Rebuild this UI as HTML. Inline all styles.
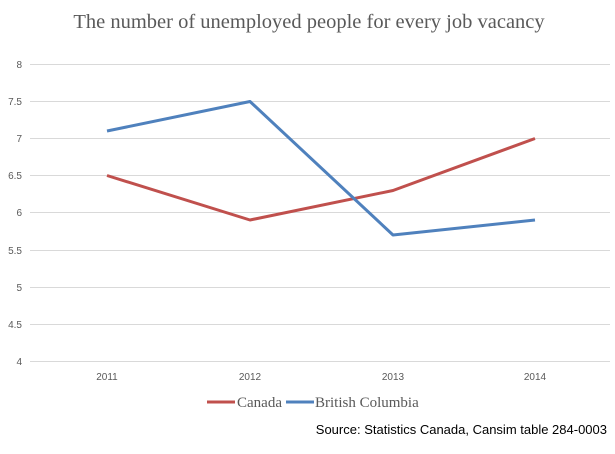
<!DOCTYPE html>
<html><head><style>
body{margin:0;background:#fff;width:615px;height:449px;overflow:hidden}
</style></head><body>
<svg width="615" height="449" xmlns="http://www.w3.org/2000/svg">
<text x="309" y="28" text-anchor="middle" font-family="Liberation Serif, serif" font-size="20.5" fill="#595959">The number of unemployed people for every job vacancy</text>
<g stroke="#d9d9d9" stroke-width="1">
<line x1="30" x2="610" y1="64.5" y2="64.5"/><line x1="30" x2="610" y1="101.5" y2="101.5"/>
<line x1="30" x2="610" y1="138.5" y2="138.5"/><line x1="30" x2="610" y1="175.5" y2="175.5"/>
<line x1="30" x2="610" y1="212.5" y2="212.5"/><line x1="30" x2="610" y1="250.5" y2="250.5"/>
<line x1="30" x2="610" y1="287.5" y2="287.5"/><line x1="30" x2="610" y1="324.5" y2="324.5"/>
<line x1="30" x2="610" y1="361.5" y2="361.5"/>
</g>
<g font-family="Liberation Sans, sans-serif" font-size="10" fill="#595959" text-anchor="end">
<text x="22" y="68">8</text><text x="22" y="105">7.5</text><text x="22" y="142">7</text>
<text x="22" y="179">6.5</text><text x="22" y="216">6</text><text x="22" y="254">5.5</text>
<text x="22" y="291">5</text><text x="22" y="328">4.5</text><text x="22" y="365">4</text>
</g>
<g font-family="Liberation Sans, sans-serif" font-size="10" fill="#595959" text-anchor="middle">
<text x="107" y="380">2011</text><text x="250" y="380">2012</text><text x="393" y="380">2013</text><text x="535" y="380">2014</text>
</g>
<polyline points="107,175.5 250,220 393,190.5 535,138.5" fill="none" stroke="#c0504d" stroke-width="3" stroke-linejoin="round"/>
<polyline points="107,131 250,101.5 393,235 535,220" fill="none" stroke="#4f81bd" stroke-width="3" stroke-linejoin="round"/>
<line x1="207" x2="235" y1="402" y2="402" stroke="#c0504d" stroke-width="3"/>
<text x="237" y="407" font-family="Liberation Serif, serif" font-size="15" fill="#595959">Canada</text>
<line x1="286" x2="314" y1="402" y2="402" stroke="#4f81bd" stroke-width="3"/>
<text x="315" y="407" font-family="Liberation Serif, serif" font-size="15" fill="#595959">British Columbia</text>
<text x="607" y="434" text-anchor="end" font-family="Liberation Sans, sans-serif" font-size="13" fill="#000">Source: Statistics Canada, Cansim table 284-0003</text>
</svg>
</body></html>
